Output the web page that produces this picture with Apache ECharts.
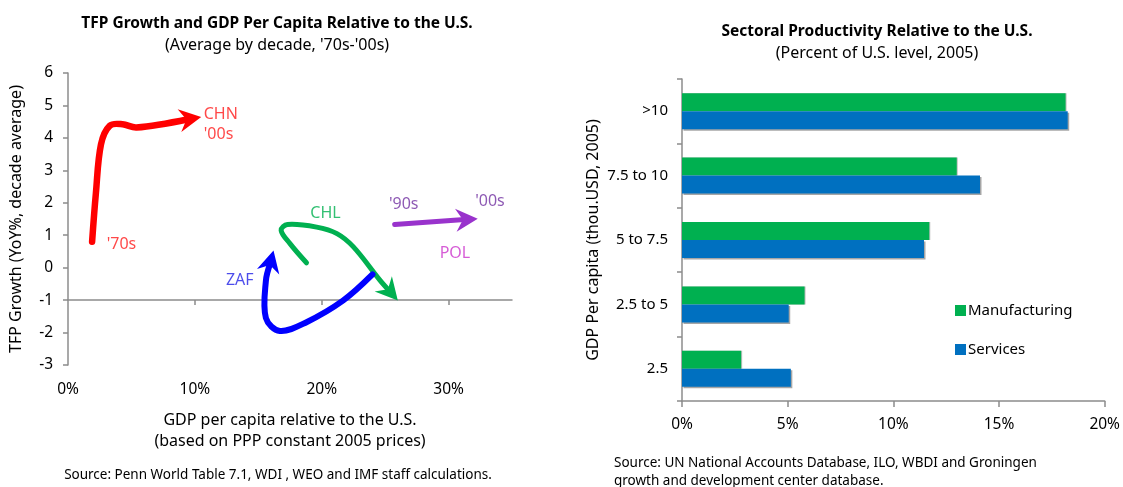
<!DOCTYPE html>
<html>
<head>
<meta charset="utf-8">
<title>TFP Growth and Sectoral Productivity</title>
<script src="https://cdn.jsdelivr.net/npm/echarts/dist/echarts.min.js"></script>
<style>
  html, body { margin: 0; padding: 0; background: #fff; }
  #chart { width: 1123px; height: 487px; }
</style>
</head>
<body>
<div id="chart"></div>
<script>
// ---- left panel: decade-average paths [GDP per capita % of U.S., TFP growth %] ----
const chnPath = [[1.9, 0.8], [2.2, 2.3], [2.6, 3.8], [3.3, 4.38], [4.3, 4.42], [5.4, 4.32], [10.5, 4.64]]
const chlPath = [[18.8, 0.15], [17.5, 0.74], [16.8, 1.15], [17.3, 1.33], [19.6, 1.25], [21.2, 1.05], [22.5, 0.64], [24.6, -0.39], [26.0, -1.01]]
const zafPath = [[24.0, -0.21], [21.7, -1.01], [18.8, -1.68], [16.7, -1.95], [15.6, -1.55], [15.6, -0.4], [16.2, 0.53]]
const polPath = [[25.75, 1.33], [32.3, 1.51]]

// text labels next to the paths (anchor = left edge of text)
const noteNames = ['CHN', "'00s", "'70s", 'CHL', "'90s", "'00s", 'POL', 'ZAF']
const notePoints = [[10.7, 4.72], [10.7, 4.1], [3.05, 0.72], [19.1, 1.67], [25.3, 1.95], [32.1, 2.04], [29.3, 0.44], [12.45, -0.4]]
const noteColors = ['#ff1a1a', '#ff1a1a', '#ff1a1a', '#00b050', '#7030a0', '#7030a0', '#cc33cc', '#1f1fe6']

const xTickValues = [0, 10, 20, 30]

// ---- right panel ----
const incomeGroups = ['2.5', '2.5 to 5', '5 to 7.5', '7.5 to 10', '>10']
const manufacturing = [2.8, 5.8, 11.7, 13.0, 18.15]
const services = [5.15, 5.05, 11.45, 14.1, 18.25]

const FONT = 'Noto Sans'
const AXIS_GRAY = '#8c8c8c'

// draws a thick smooth path ending in an arrow head, using the cartesian coords
function arrowRenderer(path, color, width) {
  return function(params, api) {
    if (params.dataIndex !== path.length - 1) {
      return null
    }
    const pts = path.map(p => api.coord(p))
    const tip = pts[pts.length - 1]
    const prev = pts[pts.length - 2]
    let dx = tip[0] - prev[0]
    let dy = tip[1] - prev[1]
    const len = Math.sqrt(dx * dx + dy * dy)
    dx /= len
    dy /= len
    const L = 22 // arrow length
    const W = 11.5 // arrow half width
    const linePts = pts.slice(0, -1).concat([[tip[0] - dx * L * 0.6, tip[1] - dy * L * 0.6]])
    const head = [
      tip,
      [tip[0] - dx * L - dy * W, tip[1] - dy * L + dx * W],
      [tip[0] - dx * L * 0.68, tip[1] - dy * L * 0.68],
      [tip[0] - dx * L + dy * W, tip[1] - dy * L - dx * W]
    ]
    return {
      type: 'group',
      children: [{
        type: 'polyline',
        shape: { points: linePts, smooth: 0.35 },
        style: { stroke: color, lineWidth: width, fill: null, lineCap: 'round', lineJoin: 'round' }
      }, {
        type: 'polygon',
        shape: { points: head },
        style: { fill: color }
      }]
    }
  }
}

function arrowSeries(path, color, width) {
  return {
    type: 'custom',
    xAxisIndex: 0,
    yAxisIndex: 0,
    silent: true,
    clip: false,
    renderItem: arrowRenderer(path, color, width),
    data: path
  }
}

const myChart = echarts.init(document.getElementById('chart'))
myChart.setOption({
  animation: false,
  textStyle: { fontFamily: FONT },
  title: [{
    text: 'TFP Growth and GDP Per Capita Relative to the U.S.',
    subtext: "(Average by decade, '70s-'00s)",
    left: 272,
    top: 11,
    textAlign: 'center',
    itemGap: 5,
    textStyle: { fontFamily: FONT, fontSize: 15.5, fontWeight: 'bold', color: '#000' },
    subtextStyle: { fontFamily: FONT, fontSize: 16, color: '#000' }
  }, {
    text: 'Sectoral Productivity Relative to the U.S.',
    subtext: '(Percent of U.S. level, 2005)',
    left: 872,
    top: 19,
    textAlign: 'center',
    itemGap: 5,
    textStyle: { fontFamily: FONT, fontSize: 15.5, fontWeight: 'bold', color: '#000' },
    subtextStyle: { fontFamily: FONT, fontSize: 16, color: '#000' }
  }, {
    text: 'Source: Penn World Table 7.1, WDI , WEO and IMF staff calculations.',
    left: 278,
    top: 468,
    padding: 0,
    textAlign: 'center',
    textStyle: { fontFamily: FONT, fontSize: 13.5, fontWeight: 'normal', color: '#000' }
  }, {
    text: 'Source: UN National Accounts Database, ILO, WBDI and Groningen\ngrowth and development center database.',
    left: 614,
    top: 454,
    padding: 0,
    textStyle: { fontFamily: FONT, fontSize: 13.5, fontWeight: 'normal', color: '#000', lineHeight: 18 }
  }],
  legend: {
    orient: 'vertical',
    left: 950,
    top: 298,
    itemWidth: 11,
    itemHeight: 11,
    itemGap: 24,
    icon: 'rect',
    data: ['Manufacturing', 'Services'],
    textStyle: { fontFamily: FONT, fontSize: 15, color: '#000', padding: [0, 0, 0, -3] }
  },
  grid: [
    { left: 68, top: 73, right: 611, bottom: 122 },
    { left: 682, top: 79, right: 17, bottom: 86 }
  ],
  xAxis: [{
    // labels + name at the bottom of the left plot
    gridIndex: 0,
    type: 'value',
    min: 0,
    max: 35,
    interval: 10,
    name: 'GDP per capita relative to the U.S.\n(based on PPP constant 2005 prices)',
    nameLocation: 'middle',
    nameGap: 45,
    nameTextStyle: { fontFamily: FONT, fontSize: 16, color: '#000', lineHeight: 21, verticalAlign: 'top' },
    axisLine: { show: false },
    axisTick: { show: false },
    splitLine: { show: false },
    axisLabel: {
      customValues: xTickValues,
      formatter: '{value}%',
      margin: 17,
      fontSize: 15.5,
      color: '#000'
    }
  }, {
    // horizontal axis line crossing at y = -1
    gridIndex: 0,
    type: 'value',
    position: 'bottom',
    offset: -65,
    min: 0,
    max: 35,
    interval: 10,
    axisLine: { show: true, lineStyle: { color: AXIS_GRAY, width: 1.5 } },
    axisTick: { show: true, customValues: [10, 20, 30], length: 5, lineStyle: { color: AXIS_GRAY, width: 1.5 } },
    axisLabel: { show: false },
    splitLine: { show: false }
  }, {
    gridIndex: 1,
    type: 'value',
    min: 0,
    max: 20,
    interval: 5,
    axisLine: { show: true, lineStyle: { color: AXIS_GRAY, width: 1.5 } },
    axisTick: { show: true, length: 6, lineStyle: { color: AXIS_GRAY, width: 1.5 } },
    splitLine: { show: false },
    axisLabel: { formatter: '{value}%', margin: 16, fontSize: 15.5, color: '#000' }
  }],
  yAxis: [{
    gridIndex: 0,
    type: 'value',
    min: -3,
    max: 6,
    interval: 1,
    name: 'TFP Growth (YoY%, decade average)',
    nameLocation: 'middle',
    nameGap: 44,
    nameTextStyle: { fontFamily: FONT, fontSize: 16, color: '#000' },
    axisLine: { show: true, lineStyle: { color: AXIS_GRAY, width: 1.5 } },
    axisTick: { show: true, length: 5, lineStyle: { color: AXIS_GRAY, width: 1.5 } },
    splitLine: { show: false },
    axisLabel: { margin: 15, fontSize: 15.5, color: '#000' }
  }, {
    gridIndex: 1,
    type: 'category',
    data: incomeGroups,
    name: 'GDP Per capita (thou.USD, 2005)',
    nameLocation: 'middle',
    nameGap: 81,
    nameTextStyle: { fontFamily: FONT, fontSize: 16, color: '#000' },
    axisLine: { show: true, lineStyle: { color: AXIS_GRAY, width: 1.5 } },
    axisTick: { show: true, length: 5, lineStyle: { color: AXIS_GRAY, width: 1.5 } },
    splitLine: { show: false },
    axisLabel: { margin: 14, fontSize: 15, color: '#000' }
  }],
  series: [
    arrowSeries(chnPath, '#ff0000', 6.5),
    arrowSeries(chlPath, '#00b050', 5),
    arrowSeries(zafPath, '#0000ff', 6),
    arrowSeries(polPath, '#9933cc', 5),
    {
      type: 'scatter',
      xAxisIndex: 0,
      yAxisIndex: 0,
      symbolSize: 0,
      silent: true,
      label: {
        show: true,
        position: 'right',
        distance: 0,
        formatter: '{b}',
        fontFamily: FONT,
        fontSize: 16
      },
      data: notePoints.map((p, i) => ({
        name: noteNames[i],
        value: p,
        label: { color: noteColors[i] }
      }))
    },
    {
      name: 'Manufacturing',
      type: 'bar',
      xAxisIndex: 2,
      yAxisIndex: 1,
      barWidth: 18,
      barGap: '0%',
      itemStyle: {
        color: '#00b050',
        shadowColor: '#bfbfbf',
        shadowOffsetX: 1,
        shadowOffsetY: 0
      },
      data: manufacturing
    },
    {
      name: 'Services',
      type: 'bar',
      xAxisIndex: 2,
      yAxisIndex: 1,
      barWidth: 18,
      barGap: '0%',
      itemStyle: {
        color: '#0070c0',
        shadowColor: '#a6a6a6',
        shadowOffsetX: 1.5,
        shadowOffsetY: 1.5
      },
      data: services
    }
  ]
})
</script>
</body>
</html>
